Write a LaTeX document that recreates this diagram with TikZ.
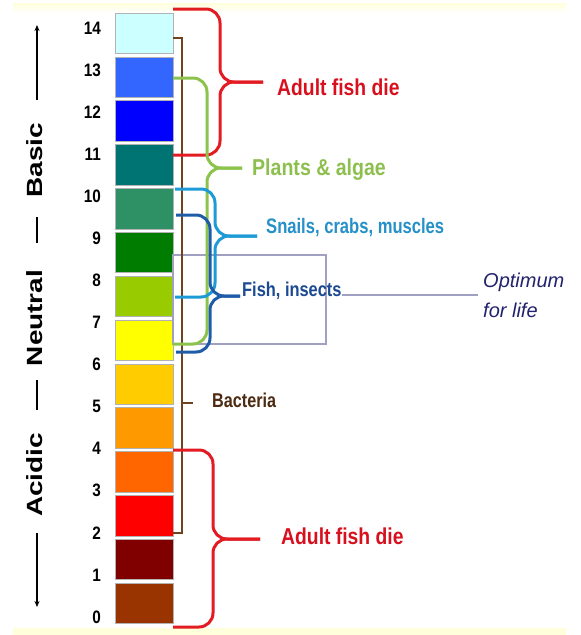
\documentclass[tikz,border=0pt]{standalone}
\usepackage{fontspec}
\setmainfont{Liberation Sans}
\usetikzlibrary{arrows.meta}
\definecolor{c14}{HTML}{CCFFFF}
\definecolor{c13}{HTML}{3366FF}
\definecolor{c12}{HTML}{0000FF}
\definecolor{c11}{HTML}{007373}
\definecolor{c10}{HTML}{2E9065}
\definecolor{c9}{HTML}{007D00}
\definecolor{c8}{HTML}{99CC00}
\definecolor{c7}{HTML}{FFFF00}
\definecolor{c6}{HTML}{FFCC00}
\definecolor{c5}{HTML}{FF9900}
\definecolor{c4}{HTML}{FF6600}
\definecolor{c3}{HTML}{FF0000}
\definecolor{c2}{HTML}{800000}
\definecolor{c1}{HTML}{993300}
\definecolor{redB}{HTML}{E31B23}
\definecolor{redT}{HTML}{D8101E}
\definecolor{greenB}{HTML}{8CC34C}
\definecolor{greenT}{HTML}{8DBF4E}
\definecolor{lblueB}{HTML}{1E9AD6}
\definecolor{lblueT}{HTML}{2690C8}
\definecolor{dblueB}{HTML}{1F5CA8}
\definecolor{dblueT}{HTML}{1C4A92}
\definecolor{brownB}{HTML}{704320}
\definecolor{brownT}{HTML}{4D2B12}
\definecolor{optgray}{HTML}{A0A0C2}
\definecolor{navyT}{HTML}{22226E}
\definecolor{paleY}{HTML}{FFFFDC}
\newcommand{\narrowtxt}[2][0.84]{\scalebox{#1}[1]{#2}}
\newcommand{\widetxt}[1]{\scalebox{1.27}[1]{#1}}
\begin{document}
\begin{tikzpicture}[x=1pt,y=-1pt,
  cell/.style={draw=black!30, line width=0.6pt, minimum width=58pt, minimum height=40.5pt, inner sep=0pt, outer sep=0pt},
  num/.style={anchor=east, inner sep=0pt, font=\bfseries\fontsize{18}{18}\selectfont},
  axislbl/.style={rotate=90, inner sep=0pt, font=\bfseries\fontsize{22}{22}\selectfont},
  axisline/.style={line width=2pt, black},
  brace/.style={line width=3pt, rounded corners=14pt},
  lbl/.style={anchor=west, inner sep=0pt, font=\bfseries\fontsize{23}{23}\selectfont},
]
\useasboundingbox (0,0) rectangle (581,635);
\fill[white] (0,0) rectangle (581,635);
\shade[top color=paleY, bottom color=white] (13,3) rectangle (566,13);
\fill[paleY] (13,628) rectangle (566,635);

% colour column
\foreach \c [count=\i from 0] in {c14,c13,c12,c11,c10,c9,c8,c7,c6,c5,c4,c3,c2,c1}
  \node[cell, fill=\c] (cell\i) at (144, 33.25+43.85*\i) {};

% numbers
\foreach \k in {0,...,14}
  \node[num] (n\k) at (101, 617-42.07*\k) {\narrowtxt[0.85]{\k}};

% axis
\coordinate (atop) at (37,25);
\coordinate (atopb) at (37,100);
\draw[axisline, -{Stealth[length=6pt,width=5pt]}] (atopb) -- (atop);
\node[axislbl] (basic) at (35,160) {\widetxt{Basic}};
\coordinate (d1a) at (37,217); \coordinate (d1b) at (37,243);
\draw[axisline] (d1a) -- (d1b);
\node[axislbl] (neutral) at (35,318) {\widetxt{Neutral}};
\coordinate (d2a) at (37,380); \coordinate (d2b) at (37,410);
\draw[axisline] (d2a) -- (d2b);
\node[axislbl] (acidic) at (35,475) {\widetxt{Acidic}};
\coordinate (abot) at (37,607);
\coordinate (abota) at (37,533);
\draw[axisline, -{Stealth[length=6pt,width=5pt]}] (abota) -- (abot);

% optimum box
\draw[optgray, line width=1.4pt] (173,255) rectangle (326,344);

% brown bracket (Bacteria)
\coordinate (bt) at (193,403);
\draw[brownB, line width=2.6pt] (173,38) -- (182,38) -- (182,533) -- (173,533);
\draw[brownB, line width=2.6pt] (182,403) -- (bt);
\node[lbl, text=brownT, font=\bfseries\fontsize{20}{20}\selectfont] (bact) at (212,400) {\narrowtxt[0.81]{Bacteria}};

% red top brace
\coordinate (rt1) at (263,82);
\draw[brace, redB] (173,9) -- (220,9) -- (220,82) -- (rt1);
\draw[brace, redB] (173,155) -- (220,155) -- (220,82) -- (rt1);
\node[lbl, text=redT] (fish1) at (277,87) {\narrowtxt{Adult fish die}};

% green brace
\coordinate (gt) at (242,168);
\draw[brace, greenB] (173,78) -- (207,78) -- (207,168) -- (gt);
\draw[brace, greenB] (173,344) -- (207,344) -- (207,168) -- (gt);
\node[lbl, text=greenT] (plants) at (252,170) {\narrowtxt[0.85]{Plants \& algae}};

% light blue brace
\coordinate (lt) at (257,236);
\draw[brace, lblueB] (175,189) -- (215,189) -- (215,236) -- (lt);
\draw[brace, lblueB] (175,297) -- (215,297) -- (215,236) -- (lt);
\node[lbl, text=lblueT, font=\bfseries\fontsize{21}{21}\selectfont] (snails) at (266,228) {\narrowtxt[0.79]{Snails, crabs, muscles}};

% dark blue brace
\coordinate (dt) at (240,296);
\draw[brace, dblueB] (176,215) -- (210,215) -- (210,296) -- (dt);
\draw[brace, dblueB] (176,352) -- (210,352) -- (210,296) -- (dt);
\node[lbl, text=dblueT, font=\bfseries\fontsize{20}{20}\selectfont] (fish) at (242,291) {\narrowtxt[0.82]{Fish, insects}};

% optimum label
\node[anchor=west, align=left, inner sep=0pt, text=navyT, font=\itshape\fontsize{20}{30}\selectfont] (opt) at (483,295) {Optimum\\for life};
\draw[optgray, line width=2.2pt] (fish.east |- opt.west) -- ([xshift=-5pt]opt.west);

% red bottom brace
\coordinate (rt2) at (260,539);
\draw[brace, redB] (173,450) -- (213,450) -- (213,539) -- (rt2);
\draw[brace, redB] (173,627) -- (213,627) -- (213,539) -- (rt2);
\node[lbl, text=redT] (fish2) at (281,536) {\narrowtxt{Adult fish die}};
\end{tikzpicture}
\end{document}
